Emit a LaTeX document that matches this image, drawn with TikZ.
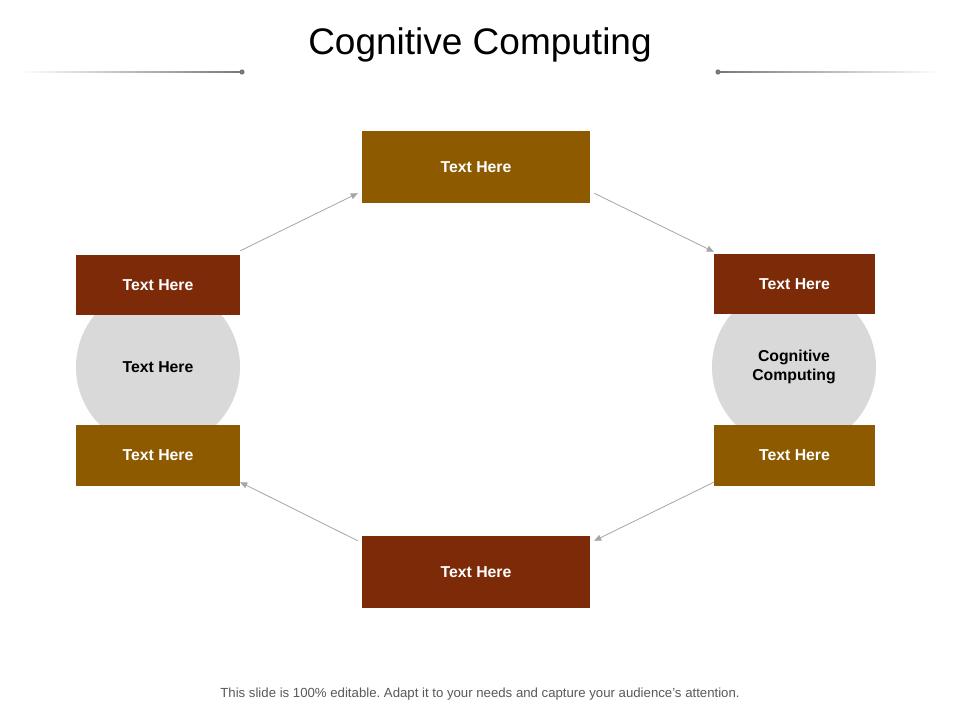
\documentclass[tikz,border=0pt]{standalone}
\usepackage{fontspec}
\setmainfont{Liberation Sans}
\usetikzlibrary{calc,arrows.meta}
\frenchspacing
\definecolor{gold}{RGB}{142,90,0}
\definecolor{rust}{RGB}{125,42,8}
\definecolor{circ}{RGB}{217,217,217}
\definecolor{arr}{RGB}{166,166,166}
\definecolor{lin}{RGB}{120,120,120}
\tikzset{
  box/.style={draw=none, minimum height=#1, inner sep=0pt, text=white, font=\fontsize{15.8}{18}\selectfont\bfseries},
  circ/.style={circle, fill=circ, minimum size=164pt, inner sep=0pt, font=\fontsize{15.8}{19}\selectfont\bfseries, align=center},
  conn/.style={draw=arr, line width=0.8pt, -{Triangle[length=7pt,width=6pt]}},
}
\begin{document}
\begin{tikzpicture}[x=1pt,y=-1pt]
\useasboundingbox (0,0) rectangle (960,720);
\fill[white] (0,0) rectangle (960,720);
% title
\node (title) at (480,45) {\fontsize{37}{40}\selectfont Cognitive Computing};
\shade[left color=white, right color=lin] (20,71.4) rectangle (242,72.6);
\shade[left color=lin, right color=white] (718,71.4) rectangle (940,72.6);
\fill[lin] (242,72) circle (2.6);
\fill[lin] (718,72) circle (2.6);
% circles
\node[circ] (lc) at (158,367) {Text Here};
\node[circ] (rc) at (794,367) {Cognitive\\Computing};
% boxes
\node[box=72pt, minimum width=228pt, fill=gold] (top) at (476,167) {\raisebox{-1.5pt}{Text Here}};
\node[box=72pt, minimum width=228pt, fill=rust] (bot) at (476,572) {\raisebox{-1.5pt}{Text Here}};
\node[box=60pt, minimum width=164pt, fill=rust] (lt) at (158,285) {\raisebox{-1.5pt}{Text Here}};
\node[box=61pt, minimum width=164pt, fill=gold] (lb) at (158,455.5) {\raisebox{-1.5pt}{Text Here}};
\node[box=60pt, minimum width=161pt, fill=rust] (rt) at (794.5,284) {\raisebox{-1.5pt}{Text Here}};
\node[box=61pt, minimum width=161pt, fill=gold] (rb) at (794.5,455.5) {\raisebox{-1.5pt}{Text Here}};
% connectors
\draw[conn] ($(lt.north east)+(0,-4)$) -- ($(top.south west)+(-4,-10)$);
\draw[conn] ($(top.south east)+(4,-10)$) -- ($(rt.north west)+(0,-2)$);
\draw[conn] ($(rb.south west)+(0,-4)$) -- ($(bot.north east)+(4,5)$);
\draw[conn] ($(bot.north west)+(-4,5)$) -- ($(lb.south east)+(0,-4)$);
% footer
\node[text=black!65] (foot) at (480,694) {\fontsize{13.2}{15}\selectfont This slide is 100\% editable. Adapt it to your needs and capture your audience's attention.};
\end{tikzpicture}
\end{document}
